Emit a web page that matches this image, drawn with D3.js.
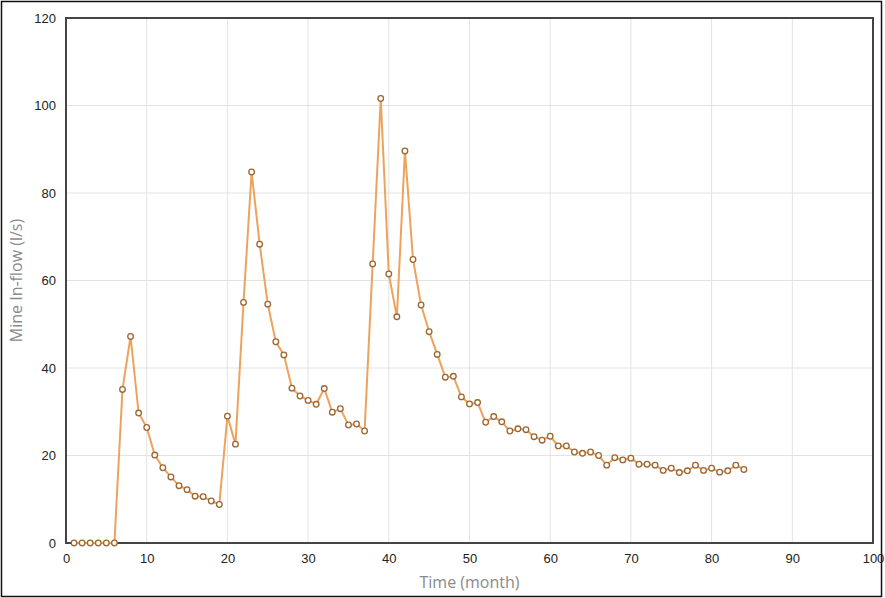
<!DOCTYPE html>
<html>
<head>
<meta charset="utf-8">
<script src="https://cdn.jsdelivr.net/npm/d3@7"></script>
<style>
  body { margin: 0; background: #fff; }
  svg { display: block; }
</style>
</head>
<body>
<div id="root"></div>
<script>
// months 1..84
const months = d3.range(1, 85);
// mine in-flow (l/s)
const inflow = [
  0, 0, 0, 0, 0, 0, 35.1, 47.2, 29.7, 26.4,
  20.1, 17.2, 15.1, 13.1, 12.2, 10.7, 10.6, 9.6, 8.8, 29.0,
  22.6, 55.0, 84.8, 68.3, 54.6, 46.0, 43.0, 35.4, 33.6, 32.6,
  31.7, 35.3, 29.9, 30.7, 27.0, 27.2, 25.6, 63.8, 101.6, 61.5,
  51.7, 89.6, 64.8, 54.4, 48.3, 43.1, 37.9, 38.1, 33.4, 31.8,
  32.1, 27.6, 28.9, 27.7, 25.6, 26.1, 25.9, 24.3, 23.5, 24.4,
  22.2, 22.2, 20.8, 20.5, 20.8, 20.0, 17.8, 19.5, 19.0, 19.4,
  18.0, 18.0, 17.8, 16.6, 17.1, 16.1, 16.5, 17.8, 16.6, 17.1,
  16.2, 16.5, 17.8, 16.8
];
const xTicks = [0, 10, 20, 30, 40, 50, 60, 70, 80, 90, 100];
const yTicks = [0, 20, 40, 60, 80, 100, 120];

const width = 885, height = 598;
const plotL = 66, plotR = 873, plotT = 18, plotB = 543;

const svg = d3.select("#root").append("svg")
  .attr("width", width)
  .attr("height", height);

// outer frame
svg.append("rect")
  .attr("x", 1.5).attr("y", 1.5)
  .attr("width", 880).attr("height", 595)
  .attr("fill", "none").attr("stroke", "#111").attr("stroke-width", 1.5);

const x = d3.scaleLinear().domain([0, 100]).range([plotL, plotR]);
const y = d3.scaleLinear().domain([0, 120]).range([plotB, plotT]);

// grid
svg.append("g")
  .selectAll("line")
  .data(xTicks.slice(1, -1))
  .join("line")
  .attr("x1", d => x(d)).attr("x2", d => x(d))
  .attr("y1", plotT).attr("y2", plotB)
  .attr("stroke", "#e3e3e3").attr("stroke-width", 1);

svg.append("g")
  .selectAll("line")
  .data(yTicks.slice(1, -1))
  .join("line")
  .attr("x1", plotL).attr("x2", plotR)
  .attr("y1", d => y(d)).attr("y2", d => y(d))
  .attr("stroke", "#e3e3e3").attr("stroke-width", 1);

// axes (labels only, frame drawn separately)
const xAxis = svg.append("g")
  .attr("transform", `translate(0,${plotB})`)
  .call(d3.axisBottom(x).tickValues(xTicks).tickSize(0).tickPadding(11));
const yAxis = svg.append("g")
  .attr("transform", `translate(${plotL},0)`)
  .call(d3.axisLeft(y).tickValues(yTicks).tickSize(0).tickPadding(10));

[xAxis, yAxis].forEach(a => {
  a.select(".domain").remove();
  a.selectAll("text")
    .attr("font-family", "Liberation Sans, Arial, sans-serif")
    .attr("font-size", 13)
    .attr("fill", "#222");
});

// plot frame
svg.append("rect")
  .attr("x", plotL).attr("y", plotT)
  .attr("width", plotR - plotL).attr("height", plotB - plotT)
  .attr("fill", "none").attr("stroke", "#444").attr("stroke-width", 2);

// axis titles
svg.append("text")
  .attr("x", (plotL + plotR) / 2).attr("y", 588)
  .attr("text-anchor", "middle")
  .attr("font-family", "Open Sans, sans-serif")
  .attr("font-size", 16)
  .attr("fill", "#8a8a8a")
  .text("Time (month)");

svg.append("text")
  .attr("transform", `translate(22,${(plotT + plotB) / 2}) rotate(-90)`)
  .attr("text-anchor", "middle")
  .attr("font-family", "Open Sans, sans-serif")
  .attr("font-size", 16)
  .attr("fill", "#8a8a8a")
  .text("Mine In-flow (l/s)");

const data = months.map((m, i) => ({ m: m, v: inflow[i] }));

const line = d3.line().x(d => x(d.m)).y(d => y(d.v));

svg.append("path")
  .datum(data)
  .attr("d", line)
  .attr("fill", "none")
  .attr("stroke", "#eea35c")
  .attr("stroke-width", 2);

svg.selectAll("circle.pt")
  .data(data)
  .join("circle")
  .attr("class", "pt")
  .attr("cx", d => x(d.m))
  .attr("cy", d => y(d.v))
  .attr("r", 2.8)
  .attr("fill", "#fff")
  .attr("stroke", "#9c6631")
  .attr("stroke-width", 1.3);
</script>
</body>
</html>
